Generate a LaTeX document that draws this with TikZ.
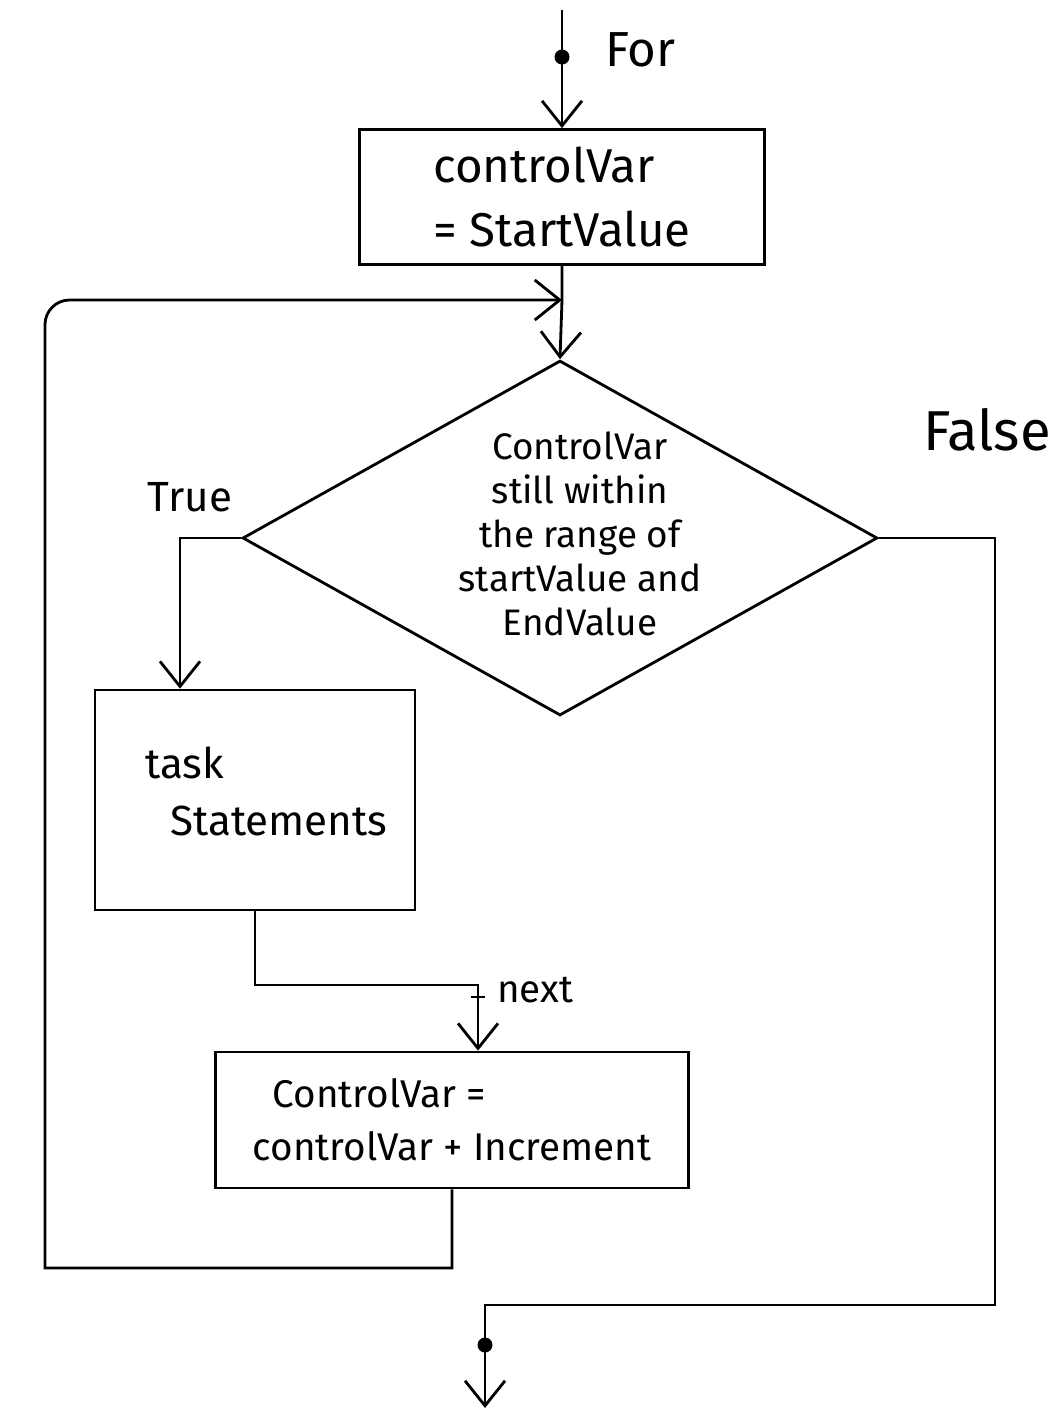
\documentclass[tikz,border=0pt]{standalone}
\usepackage{fontspec}
\setmainfont{Fira Sans}
\usetikzlibrary{arrows.meta,shapes.geometric,calc}
\begin{document}
\begin{tikzpicture}[x=0.02cm,y=-0.02cm,line width=1.6pt,
  box/.style={draw,rectangle,inner sep=0pt},
  flow/.style={-{Straight Barb[length=5mm,width=8mm]}},
  dot/.style={fill,circle,inner sep=0pt,minimum size=3mm},
  txtA/.style={font=\fontsize{24}{32}\selectfont},
  txtInit/.style={font=\fontsize{27}{36}\selectfont},
  txtB/.style={font=\fontsize{21}{25}\selectfont},
  txtC/.style={font=\fontsize{22}{30}\selectfont}]
\useasboundingbox (0,0) rectangle (1062,1411);

% nodes
\node[box,minimum width=8.1cm,minimum height=2.7cm,align=left,txtInit] (init) at (562,197) {controlVar\\= StartValue};
\node[diamond,draw,minimum width=12.7cm,minimum height=7.1cm,inner sep=0pt] (cond) at (560,538) {};
\node[txtB,align=center] (condtext) at (580,534) {ControlVar\\still within\\the range of\\startValue and\\EndValue};
\node[box,minimum width=6.4cm,minimum height=4.4cm] (task) at (255,800) {};
\node[txtA,align=left,anchor=north west] (tasktext) at (138,740) {task\\\hspace{0.5cm}Statements};
\node[box,minimum width=9.46cm,minimum height=2.72cm,align=left,txtC] (incr) at (452,1120) {\hspace{0.4cm}ControlVar =\\controlVar + Increment};

% labels
\node[font=\fontsize{28}{32}\selectfont,anchor=west] (forlbl) at (598,50) {For};
\node[font=\fontsize{24}{28}\selectfont] (truelbl) at (190,497) {True};
\node[font=\fontsize{32}{36}\selectfont] (falselbl) at (987,430) {False};
\node[txtC,anchor=west] (nextlbl) at (490,990) {next};

% coordinates
\coordinate (start) at (562,10);
\coordinate (loopin) at (562,300);
\coordinate (lb) at (452,1268);
\coordinate (ll) at (45,1268);
\coordinate (lt) at (45,300);
\coordinate (tx) at (180,0);
\coordinate (rx) at (995,0);
\coordinate (fx) at (485,1305);
\coordinate (fend) at (485,1408);
\coordinate (nx) at (478,985);

% connectors
\draw[flow] (start) -- (init.north);
\node[dot] (d1) at (562,57) {};
\draw[flow] (init.south) -- (loopin) -- (cond.north);
\draw[flow] (incr.south) -- (lb) -- (ll) [rounded corners=14pt] -- (lt) -- (loopin);
\draw[flow] (cond.west) -- (cond.west -| tx) -- (tx |- task.north);
\draw[flow] (cond.east) -- (cond.east -| rx) -- (rx |- fx) -- (fx) -- (fend);
\node[dot] (d2) at (485,1345) {};
\draw[flow] (task.south) -- (task.south |- nx) -- (nx) -- (nx |- incr.north);
\draw[line width=1pt] (471,997) -- (485,997);
\end{tikzpicture}
\end{document}
